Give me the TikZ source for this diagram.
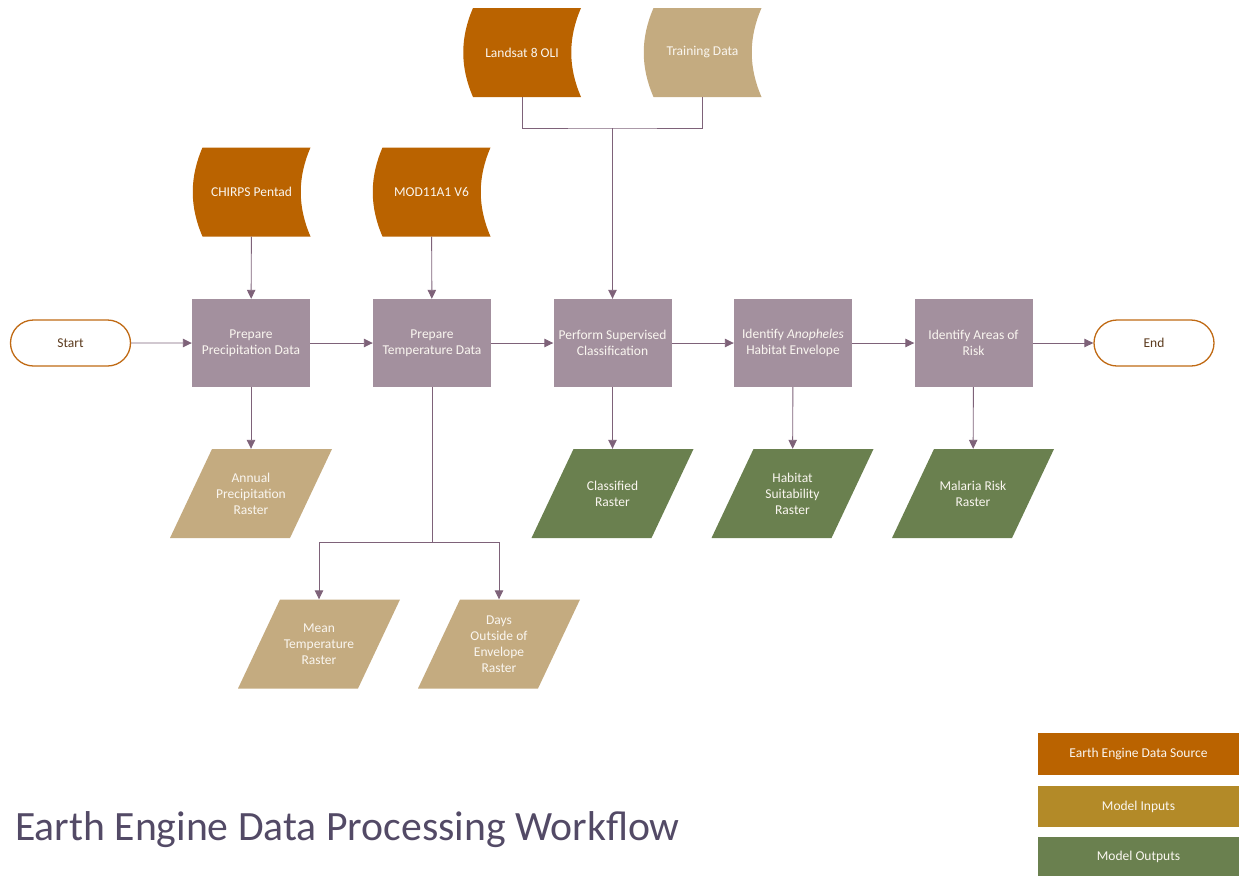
\documentclass[tikz,border=0pt]{standalone}
\usepackage{fontspec}
\setmainfont{Carlito}
\usetikzlibrary{arrows.meta,shapes.misc,calc}
\definecolor{srcC}{HTML}{BA6300}
\definecolor{tanC}{HTML}{C4AB80}
\definecolor{goldC}{HTML}{B38A28}
\definecolor{greenC}{HTML}{6A804F}
\definecolor{procC}{HTML}{A3909E}
\definecolor{lineC}{HTML}{7E6279}
\definecolor{titleC}{HTML}{534A66}
\definecolor{startC}{HTML}{C06A14}
\definecolor{startT}{HTML}{5C3B1E}
\definecolor{txtC}{HTML}{FAF6F0}
\tikzset{
  base/.style={font=\fontsize{13.5}{16}\selectfont, text=txtC, align=center, inner sep=0pt},
  src/.style={base, minimum width=118pt, minimum height=89pt, path picture={
    \fill[#1] ($(path picture bounding box.north west)+(10pt,0pt)$) -- (path picture bounding box.north east)
      .. controls +(-13pt,-30pt) and +(-13pt,30pt) .. (path picture bounding box.south east)
      -- ($(path picture bounding box.south west)+(10pt,0pt)$)
      .. controls +(-13pt,30pt) and +(-13pt,-30pt) .. ($(path picture bounding box.north west)+(10pt,0pt)$) -- cycle;}},
  para/.style={base, minimum width=162pt, minimum height=89pt, path picture={
    \fill[#1] (path picture bounding box.south west) -- ++(120pt,0pt) -- (path picture bounding box.north east) -- ++(-120pt,0pt) -- cycle;}},
  proc/.style={base, fill=procC, minimum width=118pt, minimum height=88pt},
  term/.style={base, text=startT, rounded rectangle, draw=startC, line width=1.3pt, fill=white, minimum width=120pt, minimum height=46pt},
  legend/.style={base, minimum width=201pt, fill=#1},
  conn/.style={draw=lineC, line width=0.9pt},
  arr/.style={conn, -{Triangle[length=9pt,width=8.5pt]}},
}
\begin{document}
\begin{tikzpicture}[x=1pt,y=-1pt]
\useasboundingbox (0,0) rectangle (1239,876);
% data sources
\node[src=srcC] (landsat) at (522,52.5) {Landsat 8 OLI};
\node[src=tanC] (training) at (702.5,52.5) {Training Data};
\node[src=srcC] (chirps) at (251.5,192) {CHIRPS Pentad};
\node[src=srcC] (mod) at (431.5,192) {MOD11A1 V6};
% terminals and processes
\node[term] (start) at (70.5,343) {Start};
\node[proc] (precip) at (251,343) {Prepare\\Precipitation Data};
\node[proc] (temp) at (432,343) {Prepare\\Temperature Data};
\node[proc] (perform) at (612.5,343) {Perform Supervised\\Classification};
\node[proc] (anoph) at (793,343) {Identify \textit{Anopheles}\\Habitat Envelope};
\node[proc] (risk) at (973.5,343) {Identify Areas of\\Risk};
\node[term] (end) at (1154,343) {End};
% outputs
\node[para=tanC] (annual) at (251,493.5) {Annual\\Precipitation\\Raster};
\node[para=greenC] (classified) at (612.5,493.5) {Classified\\Raster};
\node[para=greenC] (habitat) at (792.5,493.5) {Habitat\\Suitability\\Raster};
\node[para=greenC] (malaria) at (973,493.5) {Malaria Risk\\Raster};
\node[para=tanC] (mean) at (319,644) {Mean\\Temperature\\Raster};
\node[para=tanC] (days) at (499,644) {Days\\Outside of\\Envelope\\Raster};
% junctions
\coordinate (j1) at (612.5,128);
\coordinate (j2) at (432,542);
% connectors
\draw[arr] (start) -- (precip);
\draw[arr] (precip) -- (temp);
\draw[arr] (temp) -- (perform);
\draw[arr] (perform) -- (anoph);
\draw[arr] (anoph) -- (risk);
\draw[arr] (risk) -- (end);
\draw[arr] (chirps) -- (precip);
\draw[arr] (mod) -- (temp);
\draw[conn] (landsat.south) |- (j1) -| (training.south);
\draw[arr] (j1) -- (perform.north);
\draw[arr] (precip) -- (annual);
\draw[arr] (perform) -- (classified);
\draw[arr] (anoph) -- (habitat);
\draw[arr] (risk) -- (malaria);
\draw[conn] (temp.south) -- (j2);
\draw[arr] (j2) -| (mean.north);
\draw[arr] (j2) -| (days.north);
% legend
\node[legend=srcC, minimum height=42pt] (leg1) at (1138.5,754) {Earth Engine Data Source};
\node[legend=goldC, minimum height=41pt] (leg2) at (1138.5,806.5) {Model Inputs};
\node[legend=greenC, minimum height=39pt] (leg3) at (1138.5,856.5) {Model Outputs};
% title
\node[anchor=base west, inner sep=0pt, text=titleC, font=\fontsize{41.7}{48}\selectfont] (title) at (15,840) {Earth Engine Data Processing Workflow};
\end{tikzpicture}
\end{document}
